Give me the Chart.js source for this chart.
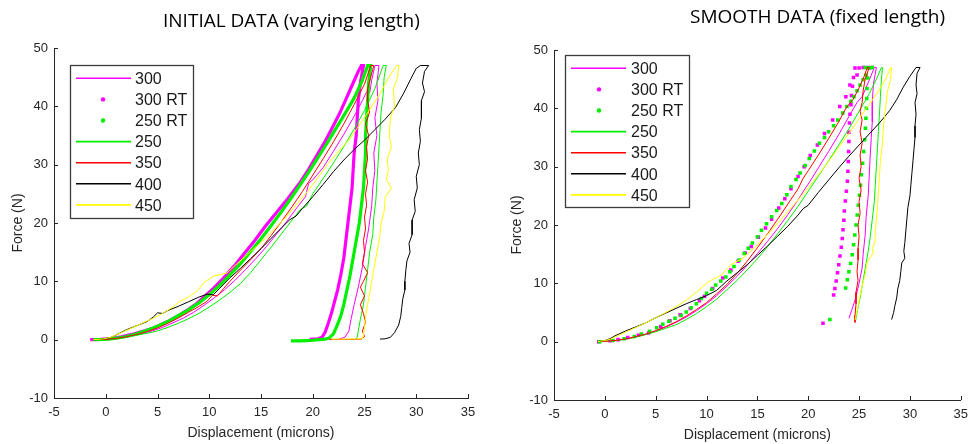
<!DOCTYPE html>
<html>
<head>
<meta charset="utf-8">
<script src="https://cdn.jsdelivr.net/npm/chart.js@4.4.1/dist/chart.umd.min.js"></script>
<style>
  html, body { margin: 0; padding: 0; background: #fff; }
  body { width: 975px; height: 444px; position: relative; overflow: hidden; }
  canvas { position: absolute; top: 0; }
  .title { position: absolute; font-family: 'Open Sans', sans-serif; font-size: 19px; line-height: 19px; color: #000; white-space: nowrap; }
</style>
</head>
<body>
<canvas id="initialChart" width="487" height="444" style="left:0; width:487px; height:444px"></canvas>
<canvas id="smoothChart" width="488" height="444" style="left:487px; width:488px; height:444px"></canvas>
<div class="title" style="left:163px; top:11px">INITIAL DATA (varying length)</div>
<div class="title" style="left:690px; top:7px">SMOOTH DATA (fixed length)</div>
<script>
const seriesNames = ['300', '300 RT', '250 RT', '250', '350', '400', '450'];
const seriesColors = ['#ff00ff', '#ff00ff', '#00f000', '#00f000', '#ff0000', '#000000', '#ffff00'];
const seriesDotted = [false, true, true, false, false, false, false];
const xTicks = [-5, 0, 5, 10, 15, 20, 25, 30, 35];
const yTicks = [-10, 0, 10, 20, 30, 40, 50];

// INITIAL DATA (varying length) - [displacement, force]
const init300 = [[-1.3,0],[-0.5,0.05],[0.5,0.15],[1.5,0.35],[2.5,0.65],[3.5,1.05],[4.5,1.5],[5.5,2.1],[6.5,2.9],[7.5,3.7],[8.5,4.7],[9.5,5.9],[10.5,7.2],[11.5,8.6],[12.5,10.2],[13.5,12],[14.5,13.9],[15.5,15.9],[16.5,18.1],[17.5,20.3],[18.5,22.7],[19.3,24.5],[19.6,26.8],[20,27.4],[21,29.5],[22,32.3],[23,35.2],[24,38.3],[24.8,41],[25.3,42.8],[25.5,42.3],[25.7,44.5],[26,47],[26.4,47],[26.2,44],[26.3,41],[26,38],[26.2,35],[25.9,32],[26,29],[25.8,26],[25.7,23],[25.4,19],[25.1,16],[24.8,12.5],[24.4,9],[24,6],[23.7,3.5],[23.5,1.5],[23.1,0.4],[22.5,0.1]];
const init300RT = [[-1.5,0],[-0.5,0.05],[0.5,0.2],[1.5,0.5],[2.5,0.9],[3.5,1.4],[4.5,1.9],[5.2,2.5],[6.2,3.3],[7.2,4.3],[8,5.2],[8.8,6.2],[9.6,7.5],[10.4,8.8],[11.4,10.6],[12.4,12.6],[13.4,14.8],[14.4,17],[15.4,19.4],[16.5,21.8],[17.6,24.2],[18.8,27],[19.6,29.2],[20.4,31.6],[21.2,34],[22,36.7],[22.6,38.8],[23.2,41.2],[23.9,44],[24.4,46],[24.7,47],[24.9,47],[24.6,44],[24.4,41],[24.3,38],[24.2,35],[24,32],[23.9,29],[23.8,26],[23.6,23],[23.4,20],[23.2,17],[23,14],[22.7,11],[22.4,8.5],[22.1,6.5],[21.8,4.5],[21.5,2.8],[21.2,1.3],[20.9,0.4],[20.5,0.15],[20,0.1],[19.7,0.05]];
const init250RT = [[-1.2,0],[0,0.05],[1,0.25],[2,0.55],[3,1.0],[4,1.6],[5,2.3],[6,3.1],[7,4.1],[8,5.1],[9,6.3],[10,7.7],[11,9.3],[12,11.1],[13,13],[14,15.1],[15,17.3],[16,19.6],[17,22],[18,24.5],[19,27.1],[20,29.8],[21,32.6],[22,35.5],[23,38.4],[24,41.4],[24.8,44.5],[25.3,47],[25.6,47],[25.4,44],[25.3,41],[25.2,38],[25.1,35],[25.1,32],[25,29],[24.9,26],[24.7,23],[24.5,20],[24.2,17],[23.9,14],[23.6,11],[23.3,8.5],[23,6],[22.7,4],[22.3,2.2],[22,1],[21.6,0.3],[21.2,0.1],[20.6,0],[20,-0.1],[19.4,-0.15],[18.8,-0.2],[17.9,-0.2]];
const init250 = [[-1,0],[0,0.05],[1,0.2],[2,0.45],[3,0.75],[4,1.1],[5,1.5],[6,2.1],[7,2.8],[8,3.6],[9,4.5],[10,5.6],[11,6.8],[12,8.1],[13,9.6],[14,11.5],[15,13.7],[16,15.9],[17,18.2],[18,20.5],[18.8,22.3],[19.4,22.9],[20,25],[21,27.6],[22,30.3],[23,33.1],[24,36.1],[25,39.3],[26,43],[26.8,47],[27.1,47],[26.9,45],[26.8,42],[26.6,39],[26.5,36],[26.4,33],[26.3,30],[26.2,27],[26.1,24],[25.9,21],[25.8,18],[25.5,15],[25.3,12],[25.1,9],[24.9,6],[24.6,3.5],[24.4,1.5],[24.3,0.4],[24.1,0.1]];
const init350 = [[-1,0],[0,0.05],[1,0.2],[2,0.5],[3,0.9],[4,1.4],[5,2],[6,2.8],[7,3.7],[8,4.7],[9,5.7],[9.8,6.6],[10.3,7.6],[10.8,7.5],[11.4,8.8],[12,10],[13,11.9],[14,13.7],[15,15.6],[16,17.9],[17,20.3],[18,22.8],[19,25.4],[20,28.2],[21,31],[22,33.9],[23,37],[24,40.3],[25,43.8],[25.6,47],[25.9,47],[25.6,45],[25.3,43],[25.3,41],[25.5,39],[25.1,37],[25.4,35],[25.2,33],[25.3,31],[25.1,29],[25.3,27],[25.1,25],[25.2,23],[25,21],[25.1,19],[24.9,17],[25,15],[24.8,13],[25.3,11.5],[24.9,10],[24.6,9],[25,7.5],[24.6,6],[24.9,4.5],[25.1,3],[24.8,1.5],[25,0.5],[24.7,0.1],[23.5,0.05],[22.5,0.05],[21.6,0.05]];
const init400 = [[-1.2,0],[-0.5,0.05],[0.4,0.3],[1,0.8],[2,1.7],[3,2.4],[4,3.1],[4.6,3.9],[5,4.6],[5.5,4.5],[6,5],[7,5.7],[8,6.5],[9,7.3],[9.8,7.8],[10.4,7.7],[11,8.8],[12,10.6],[13,12.2],[14,13.9],[15,15.6],[16,17.4],[17,19.2],[17.8,20.6],[18.4,21.2],[19,22.5],[20,24.5],[21,26.6],[22,28.8],[23,30.8],[24,32.6],[25,34.2],[26,36],[27,37.8],[28,39.8],[28.8,42.3],[29.5,44.8],[30,46.5],[30.4,47],[31.2,47],[30.8,46],[30.6,44],[30.8,42.5],[30.5,41],[30.5,38],[30.3,36],[30.4,34],[30.2,32],[30.3,30],[30,28],[30.1,26],[29.8,24],[29.9,22],[29.6,20.5],[29.6,18],[29.3,16.5],[29.4,15],[29.1,13.5],[29,12],[28.9,10],[28.9,8.5],[28.7,7],[28.6,5.5],[28.5,4],[28.3,2.5],[27.9,1.2],[27.5,0.4],[27,0.15],[26.5,0.1]];
const init450 = [[-1.2,0],[-0.3,0.1],[0.5,0.4],[1.5,1.2],[2.5,2],[3.5,2.8],[4.5,3.6],[5.5,4.5],[6.5,5.6],[7.2,6.6],[8,7.3],[8.8,8.3],[9.5,9.8],[10.4,10.9],[11.7,11.4],[12.6,12.9],[13.5,14.3],[14.5,15.9],[15.5,17.5],[16.5,19.3],[17.5,21.2],[18.5,23.3],[19.5,25.4],[20.5,27.8],[21.5,30.2],[22.5,32.3],[23.5,34.2],[24.5,36.8],[25.5,39.4],[26.5,42.2],[27.2,44.5],[27.8,46.2],[28.1,47],[28.3,47],[28.2,45],[27.8,43],[27.9,40],[27.5,38],[27.4,35],[27.6,33],[27.2,31],[27.3,29],[27.1,27.5],[27.6,26],[27,24.5],[26.9,22],[26.6,20],[26.5,18],[26.3,16],[26.1,14],[25.9,12],[25.7,10],[25.5,8],[25.3,6],[25.1,4],[25,2],[24.9,0.8],[24.8,0.15],[23.5,0.1],[22.3,0.1],[21.8,0.1]];

// SMOOTH DATA (fixed length)
const smooth300 = [[-0.7,0],[0,0.05],[1,0.2],[2,0.45],[3,0.8],[4,1.25],[5,1.8],[6,2.5],[7,3.3],[8,4.2],[9,5.3],[10,6.5],[11,7.9],[12,9.5],[13,11.2],[14,13.1],[15,15.1],[16,17.2],[17,19.4],[18,21.8],[19,24.3],[19.6,26],[20,27],[21,29.8],[22,32.6],[23,35.5],[24,38.6],[24.8,41],[25.3,42],[25.8,44],[26.5,47],[26.7,47],[26.4,44],[26.3,41],[26.3,37.7],[26.2,35],[26.1,32],[26,28.5],[25.9,25.1],[25.7,21.5],[25.6,18.3],[25.4,15],[25.3,12.6],[25,10],[24.65,7.4],[24.3,5.5],[24,4]];
const smooth300RT = [[-0.6,0],[0.5,0.15],[1.3,0.35],[2.25,0.7],[3.3,1.1],[4.3,1.5],[5.5,2.6],[6.4,3.6],[7.4,4.6],[8.4,5.7],[9.3,7],[9.8,7.8],[10.6,9.1],[11.6,10.9],[12.4,12.3],[13.1,13.8],[13.8,15.2],[14.4,16.3],[15.1,17.9],[15.8,19.5],[16.4,21],[17.1,22.9],[17.7,24.5],[18.3,26.2],[19,28.3],[19.6,30],[20.2,31.9],[20.9,33.7],[21.6,35.7],[22.4,38],[23.1,40.3],[23.7,42],[24.1,44],[24.8,45.7],[25,46.9],[25.4,47],[25.9,47],[26.3,47],[24.6,46.9],[24.45,45.3],[24.35,43.8],[24.25,42.2],[24.2,40.6],[24.1,39],[24.05,37.5],[24,35.9],[24,34.3],[23.97,32.6],[23.94,30.9],[23.9,29.2],[23.85,27.5],[23.75,25.8],[23.65,24.1],[23.55,22.4],[23.5,20.8],[23.42,19.2],[23.35,17.7],[23.25,16.2],[23.12,14.7],[23,13.2],[22.88,11.8],[22.75,10.4],[22.62,9.1],[22.5,8],[21.45,3.15]];
const smooth250RT = [[-0.5,0],[0.8,0.2],[1.9,0.5],[2.9,0.9],[3.6,1.3],[4.4,1.8],[5.1,2.4],[5.7,3],[6.3,3.5],[6.9,4],[7.5,4.5],[8,5.1],[8.5,5.8],[9,6.5],[9.5,7.4],[10,8.3],[10.5,9],[10.9,9.7],[11.4,10.4],[11.9,11.1],[12.3,12],[12.7,12.9],[13.2,14],[13.7,15.1],[14.1,16],[14.5,16.9],[15,18],[15.4,19.1],[15.9,20.2],[16.4,21.4],[16.9,22.5],[17.4,23.7],[17.9,25.2],[18.3,26.6],[18.8,27.8],[19.2,28.9],[19.7,30.2],[20.1,31.4],[20.6,32.7],[21.1,34],[21.6,35],[22,36],[22.5,37],[22.9,38],[23.4,39.2],[23.8,40.3],[24.2,41.2],[24.5,42],[24.8,43],[25.1,44],[25.4,44.9],[25.7,45.7],[26,46.9],[25.6,47],[26.3,47],[25.94,46.9],[25.85,45.2],[25.78,43.4],[25.75,41.7],[25.72,40],[25.67,38.3],[25.62,36.6],[25.55,34.6],[25.45,32.6],[25.35,30.6],[25.23,28.6],[25.14,26.8],[25.04,25.1],[24.93,23.4],[24.82,21.7],[24.7,20],[24.58,18.3],[24.46,16.6],[24.33,14.9],[24.17,13.4],[24,12],[23.84,10.6],[23.68,9.2],[22.13,3.8]];
const smooth250 = [[-0.7,0],[0,0.05],[1,0.15],[2,0.4],[3,0.75],[4,1.2],[5,1.7],[6,2.3],[7,2.9],[8,3.8],[9,4.8],[10,6],[11,7.3],[12,8.9],[13,10.5],[14,12.3],[15,14.2],[16,16.3],[17,18.5],[18,20.8],[19,23.2],[20,25.8],[21,28.4],[22,31],[23,33.7],[24,36.5],[25,39.5],[26,42.5],[26.7,45],[27.2,47],[27.3,47],[27.2,45],[27.1,42],[27,39],[26.9,36],[26.8,33],[26.7,30],[26.6,27],[26.5,24],[26.3,21],[26.1,18],[25.9,15.5],[25.6,12.5],[25.35,10],[25.1,7.5],[24.85,5.5],[24.65,3.6]];
const smooth350 = [[-0.7,0],[0,0.05],[1,0.2],[2,0.45],[3,0.85],[4,1.3],[5,1.9],[6,2.6],[7,3.4],[8,4.4],[9,5.5],[10,6.7],[11,8.2],[12,9.8],[13,11.7],[14,13.8],[15,16.1],[16,18.5],[17,21],[18,23.6],[19,26.2],[19.5,28],[20,29.3],[21,32],[22,34.8],[23,37.7],[23.7,40],[24.4,41.5],[25,43.5],[25.5,45.5],[25.8,47],[26,47],[25.6,45],[25.4,43],[25.3,41],[25.1,39.5],[25.3,38],[25.1,36],[25.3,34],[25.1,32],[25.2,30],[25,28],[25.2,26],[25,24],[25.1,22],[24.9,20],[25,18],[24.9,16],[24.9,14],[24.8,12],[24.9,10.5],[24.7,8.5],[24.7,6.5],[24.6,4.5],[24.6,3.3]];
const smooth400 = [[-0.7,0],[0,0.2],[0.5,0.5],[1,1],[2,1.8],[3,2.5],[4,3.2],[5,4.1],[6,4.9],[7,5.7],[8,6.5],[9,7.2],[10,7.9],[11,8.8],[11.5,9.6],[12,10.4],[13,11.8],[14,13.2],[15,14.8],[16,16.4],[17,18.1],[18,19.8],[19,21.7],[19.5,22.8],[20,23.4],[21,25.6],[22,27.7],[23,29.8],[24,31.8],[25,33.7],[26,35.6],[27,37.5],[28,39.6],[28.7,41.5],[29.3,43.5],[30,45.5],[30.6,47],[31,47],[30.7,46],[30.6,44],[30.7,42.5],[30.5,41],[30.6,39],[30.5,37],[30.5,35],[30.4,33],[30.3,31],[30.2,29],[30.1,27],[30,25],[29.8,23],[29.7,21],[29.6,19],[29.5,17],[29.4,15.5],[29.5,14.3],[29.2,13.5],[29.1,12],[29,10.5],[28.8,9],[28.7,7.5],[28.5,6],[28.4,5],[28.2,3.8]];
const smooth450 = [[-0.7,0],[0,0.2],[0.5,0.4],[1,0.8],[2,1.6],[3,2.4],[4,3.2],[5,4.1],[6,5],[7,6],[8,7.1],[9,8.5],[10,10],[10.5,10.6],[11,11],[11.6,11.6],[12,12.5],[12.5,13.3],[13,13.8],[13.5,14.2],[14,15],[15,16.6],[16,18.4],[17,20.3],[18,22.3],[19,24.3],[20,26.4],[21,28.6],[22,30.9],[23,33.3],[24,35.7],[25,38.2],[26,40.7],[27,43.2],[27.6,45],[28.1,47],[28.2,47],[28.1,45],[27.8,43],[27.6,40],[27.4,37],[27.3,34],[27.1,31],[26.95,27],[26.8,23],[26.6,19],[26.55,17],[26.3,16],[26.4,15.2],[25.8,13.7],[25.6,11.5],[25.25,9.2],[25,7],[24.8,5.2],[24.6,3.7]];

const axisColor = '#262626';
const textFont = '"Liberation Sans", Arial, sans-serif';

const inwardTicks = {
    id: 'inwardTicks',
    afterDraw(chart) {
        const {ctx, chartArea: a, scales: {x, y}} = chart;
        ctx.save();
        ctx.strokeStyle = axisColor;
        ctx.lineWidth = 1;
        ctx.beginPath();
        xTicks.forEach(v => {
            const px = Math.round(x.getPixelForValue(v)) + 0.5;
            ctx.moveTo(px, a.bottom);
            ctx.lineTo(px, a.bottom - 4);
        });
        yTicks.forEach(v => {
            const py = Math.round(y.getPixelForValue(v)) + 0.5;
            ctx.moveTo(a.left, py);
            ctx.lineTo(a.left + 4, py);
        });
        ctx.stroke();
        ctx.restore();
    }
};

const boxLegend = {
    id: 'boxLegend',
    afterDraw(chart, args, o) {
        const ctx = chart.ctx;
        ctx.save();
        ctx.fillStyle = '#fff';
        ctx.fillRect(o.left, o.top, o.width, o.height);
        ctx.strokeStyle = '#3c3c3c';
        ctx.lineWidth = 1.3;
        ctx.strokeRect(o.left + 0.5, o.top + 0.5, o.width, o.height);
        ctx.font = '16px ' + textFont;
        ctx.textBaseline = 'alphabetic';
        chart.data.datasets.forEach((ds, i) => {
            const cy = o.firstRow + i * o.rowHeight;
            if (seriesDotted[i]) {
                ctx.fillStyle = ds.borderColor;
                ctx.beginPath();
                ctx.arc(o.dotX, cy, 2.2, 0, Math.PI * 2);
                ctx.fill();
            } else {
                ctx.strokeStyle = ds.borderColor;
                ctx.lineWidth = 1.6;
                ctx.beginPath();
                ctx.moveTo(o.lineFrom, cy);
                ctx.lineTo(o.lineTo, cy);
                ctx.stroke();
            }
            ctx.fillStyle = '#1a1a1a';
            ctx.fillText(ds.label, o.textX, cy + 5.7);
        });
        ctx.restore();
    }
};

function makeDatasets(seriesData, dotsAsLine) {
    return seriesData.map((pts, i) => {
        const dotted = seriesDotted[i];
        return {
            label: seriesNames[i],
            data: pts.map(p => ({x: p[0], y: p[1]})),
            borderColor: seriesColors[i],
            backgroundColor: seriesColors[i],
            showLine: !dotted || dotsAsLine,
            borderWidth: dotted ? 3.2 : 1,
            pointRadius: dotted && !dotsAsLine ? 2.5 : 0,
            pointStyle: 'rect',
            pointBorderWidth: 0,
            tension: 0,
            order: 10 - i
        };
    });
}

function makeChart(id, datasets, g) {
    return new Chart(id, {
        type: 'scatter',
        data: { datasets },
        options: {
            responsive: false,
            animation: false,
            devicePixelRatio: 1,
            layout: { padding: { top: g.top, right: g.right, bottom: 0, left: 0 } },
            plugins: {
                legend: { display: false },
                tooltip: { enabled: false },
                boxLegend: g.legend
            },
            scales: {
                x: {
                    type: 'linear', min: -5, max: 35,
                    afterBuildTicks: s => { s.ticks = xTicks.map(v => ({value: v})); },
                    afterFit: s => { s.height = g.xHeight; },
                    grid: { display: false, drawTicks: false },
                    border: { color: axisColor, width: 1 },
                    ticks: { padding: 7, color: axisColor, autoSkip: false, maxRotation: 0, font: { family: textFont, size: 13 } },
                    title: { display: true, text: 'Displacement (microns)', color: axisColor, padding: { top: 0, bottom: g.xTitlePad }, font: { family: textFont, size: 14 } }
                },
                y: {
                    type: 'linear', min: -10, max: 50,
                    afterBuildTicks: s => { s.ticks = yTicks.map(v => ({value: v})); },
                    afterFit: s => { s.width = g.yWidth; },
                    grid: { display: false, drawTicks: false },
                    border: { color: axisColor, width: 1 },
                    ticks: { padding: 6, color: axisColor, autoSkip: false, font: { family: textFont, size: 13 } },
                    title: { display: true, text: 'Force (N)', color: axisColor, padding: { top: g.yTitlePad, bottom: 0 }, font: { family: textFont, size: 14 } }
                }
            }
        },
        plugins: [inwardTicks, boxLegend]
    });
}

makeChart('initialChart',
    makeDatasets([init300, init300RT, init250RT, init250, init350, init400, init450], true),
    { top: 48, right: 19, xHeight: 46, yWidth: 54, xTitlePad: 2.6, yTitlePad: 10,
      legend: { left: 70, top: 65, width: 123, height: 153, firstRow: 78.3, rowHeight: 21.1, lineFrom: 76, lineTo: 131, textX: 135, dotX: 103 } });

makeChart('smoothChart',
    makeDatasets([smooth300, smooth300RT, smooth250RT, smooth250, smooth350, smooth400, smooth450], false),
    { top: 50, right: 8, xHeight: 44, yWidth: 67, xTitlePad: 0.6, yTitlePad: 21.6,
      legend: { left: 78, top: 55, width: 124, height: 152, firstRow: 68.3, rowHeight: 21.1, lineFrom: 84, lineTo: 139, textX: 144, dotX: 112 } });
</script>
</body>
</html>
